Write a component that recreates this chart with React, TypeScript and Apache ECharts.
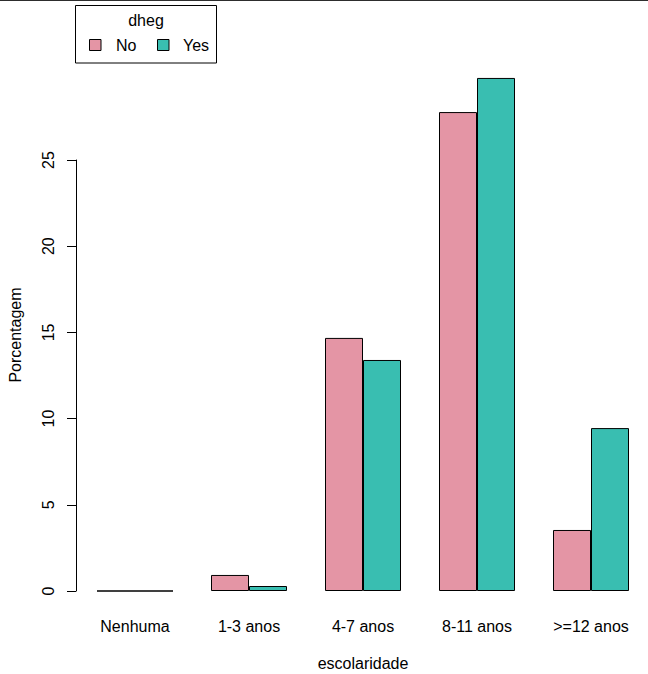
import React, { useEffect, useRef } from "react";
import * as echarts from "echarts";

const categories = ["Nenhuma", "1-3 anos", "4-7 anos", "8-11 anos", ">=12 anos"];
const seriesNames = ["No", "Yes"];
const valuesNo = [0, 0.93, 14.68, 27.78, 3.54];
const valuesYes = [0, 0.29, 13.4, 29.76, 9.45];
const yTicks = [0, 5, 10, 15, 20, 25];
const colors = ["#E495A5", "#39BEB1"];
const legendTitle = "dheg";
const xTitle = "escolaridade";
const yTitle = "Porcentagem";

const FONT = "'Liberation Sans', Arial, Helvetica, sans-serif";

export default function App() {
  const ref = useRef<HTMLDivElement>(null);
  useEffect(() => {
    if (!ref.current) return;
    const chart = echarts.init(ref.current, undefined, { renderer: "svg" });
    const option: any = {
      animation: false,
      backgroundColor: "#ffffff",
      textStyle: { fontFamily: FONT },
      grid: {
        left: 78,
        right: 0,
        top: 160,
        bottom: 83,
        outerBoundsMode: "none",
        containLabel: false,
      },
      xAxis: {
        type: "category",
        data: categories,
        axisLine: { show: false },
        axisTick: { show: false },
        splitLine: { show: false },
        axisLabel: {
          color: "#000",
          fontSize: 16,
          fontFamily: FONT,
          margin: 27,
          interval: 0,
        },
      },
      yAxis: {
        type: "value",
        min: yTicks[0],
        max: yTicks[yTicks.length - 1],
        interval: 5,
        offset: 2,
        splitLine: { show: false },
        axisLine: { show: true, lineStyle: { color: "#000", width: 1 } },
        axisTick: { show: true, length: 9, lineStyle: { color: "#000", width: 1 } },
        axisLabel: {
          color: "#000",
          fontSize: 16,
          fontFamily: FONT,
          rotate: 90,
          margin: 20,
        },
      },
      series: [
        {
          name: seriesNames[0],
          type: "bar",
          data: valuesNo,
          barWidth: 38,
          barGap: "0%",
          clip: false,
          itemStyle: { color: colors[0], borderColor: "#000", borderWidth: 1 },
        },
        {
          name: seriesNames[1],
          type: "bar",
          data: valuesYes,
          barWidth: 38,
          barGap: "0%",
          clip: false,
          itemStyle: { color: colors[1], borderColor: "#000", borderWidth: 1 },
        },
      ],
      graphic: [
        {
          type: "rect",
          shape: { x: 0, y: 0, width: 648, height: 1 },
          style: { fill: "#2d2d2d" },
          silent: true,
        },
        {
          type: "rect",
          shape: { x: 75.5, y: 5.5, width: 141, height: 57.5 },
          style: { fill: "#fff", stroke: "#000", lineWidth: 1 },
        },
        {
          type: "text",
          x: 146,
          y: 20,
          style: {
            text: legendTitle,
            fill: "#000",
            font: `16px ${FONT}`,
            align: "center",
            verticalAlign: "middle",
          },
        },
        {
          type: "rect",
          shape: { x: 89.5, y: 39.5, width: 11.5, height: 11 },
          style: { fill: colors[0], stroke: "#000", lineWidth: 1 },
        },
        {
          type: "text",
          x: 116,
          y: 45.5,
          style: {
            text: seriesNames[0],
            fill: "#000",
            font: `16px ${FONT}`,
            align: "left",
            verticalAlign: "middle",
          },
        },
        {
          type: "rect",
          shape: { x: 157.5, y: 39.5, width: 11.5, height: 11 },
          style: { fill: colors[1], stroke: "#000", lineWidth: 1 },
        },
        {
          type: "text",
          x: 183,
          y: 45.5,
          style: {
            text: seriesNames[1],
            fill: "#000",
            font: `16px ${FONT}`,
            align: "left",
            verticalAlign: "middle",
          },
        },
        {
          type: "text",
          x: 363,
          y: 663,
          style: {
            text: xTitle,
            fill: "#000",
            font: `16px ${FONT}`,
            align: "center",
            verticalAlign: "middle",
          },
        },
        {
          type: "text",
          x: 15,
          y: 335,
          rotation: Math.PI / 2,
          style: {
            text: yTitle,
            fill: "#000",
            font: `16px ${FONT}`,
            align: "center",
            verticalAlign: "middle",
          },
        },
      ],
    };
    chart.setOption(option);
    return () => chart.dispose();
  }, []);
  return (
    <div
      ref={ref}
      style={{ position: "fixed", left: 0, top: 0, width: 648, height: 674, background: "#fff" }}
    />
  );
}
